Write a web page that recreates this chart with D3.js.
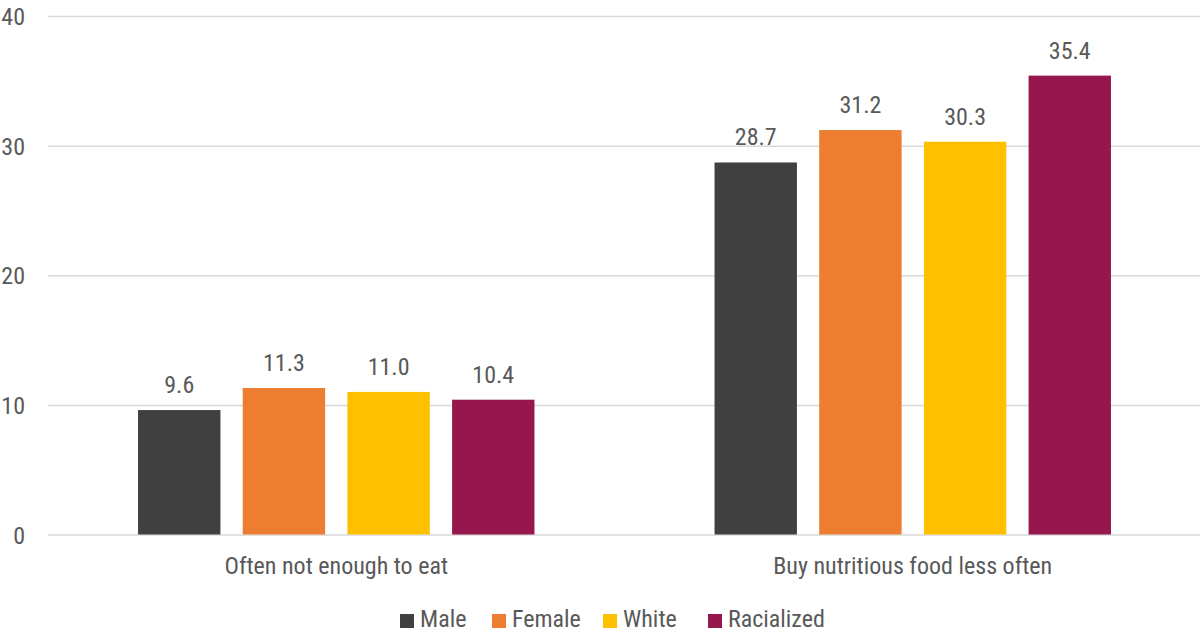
<!DOCTYPE html>
<html>
<head>
<meta charset="utf-8">
<script src="https://cdn.jsdelivr.net/npm/d3@7"></script>
<style>
  html, body { margin: 0; padding: 0; background: #fff; }
  svg text { font-family: "Roboto Condensed", "Liberation Sans Narrow", "Arial Narrow", Roboto, sans-serif; font-stretch: condensed; fill: #595959; }
</style>
</head>
<body>
<svg id="chart" width="1203" height="633"></svg>
<script>
const categories = ["Often not enough to eat", "Buy nutritious food less often"];
const seriesNames = ["Male", "Female", "White", "Racialized"];
const seriesColors = ["#404040", "#ED7D31", "#FFC000", "#95174E"];
const maleValues = [9.6, 28.7];
const femaleValues = [11.3, 31.2];
const whiteValues = [11.0, 30.3];
const racializedValues = [10.4, 35.4];
const yTicks = [0, 10, 20, 30, 40];

const seriesValues = [maleValues, femaleValues, whiteValues, racializedValues];

const svg = d3.select("#chart");

const x0 = d3.scaleBand().domain(categories).range([48, 1201]).padding(0);
const x1 = d3.scaleBand().domain(seriesNames).range([0, x0.bandwidth()])
  .paddingInner(0.213).paddingOuter(0.86);
const y = d3.scaleLinear().domain([0, 40]).range([534.5, 16]);
const color = d3.scaleOrdinal().domain(seriesNames).range(seriesColors);

// gridlines
const grid = svg.append("g").attr("transform", "translate(48,0)")
  .call(d3.axisLeft(y).tickValues(yTicks).tickSize(-1152).tickFormat(""));
grid.select(".domain").remove();
grid.selectAll(".tick line").attr("stroke", "#d9d9d9").attr("stroke-width", 1.5);

// y tick labels
const yAxis = svg.append("g").attr("transform", "translate(25,0)")
  .call(d3.axisLeft(y).tickValues(yTicks).tickSize(0).tickPadding(0));
yAxis.select(".domain").remove();
yAxis.selectAll(".tick text").attr("font-size", 24).attr("fill", "#595959")
  .attr("dy", "0.36em").style("font-family", null);

// bars
const rows = categories.map((c, i) => ({
  category: c,
  items: seriesNames.map((s, j) => ({ series: s, value: seriesValues[j][i] }))
}));

const groups = svg.append("g").selectAll("g").data(rows).join("g")
  .attr("transform", d => `translate(${x0(d.category)},0)`);

groups.selectAll("rect").data(d => d.items).join("rect")
  .attr("x", d => x1(d.series))
  .attr("width", x1.bandwidth())
  .attr("y", d => y(d.value))
  .attr("height", d => y(0) - y(d.value))
  .attr("fill", d => color(d.series));

groups.selectAll("text").data(d => d.items).join("text")
  .attr("x", d => x1(d.series) + x1.bandwidth() / 2)
  .attr("y", d => y(d.value) - 17)
  .attr("text-anchor", "middle")
  .attr("font-size", 24)
  .text(d => d.value.toFixed(1));

// category labels
svg.append("g").selectAll("text").data(categories).join("text")
  .attr("x", d => x0(d) + x0.bandwidth() / 2)
  .attr("y", 573.5)
  .attr("text-anchor", "middle")
  .attr("font-size", 24)
  .text(d => d);

// legend
const legendX = [400, 492, 603, 708];
const legend = svg.append("g").selectAll("g").data(seriesNames).join("g")
  .attr("transform", (d, i) => `translate(${legendX[i]},614)`);
legend.append("rect").attr("width", 14).attr("height", 14).attr("fill", d => color(d));
legend.append("text").attr("x", 20).attr("y", 13).attr("font-size", 24).text(d => d);
</script>
</body>
</html>
